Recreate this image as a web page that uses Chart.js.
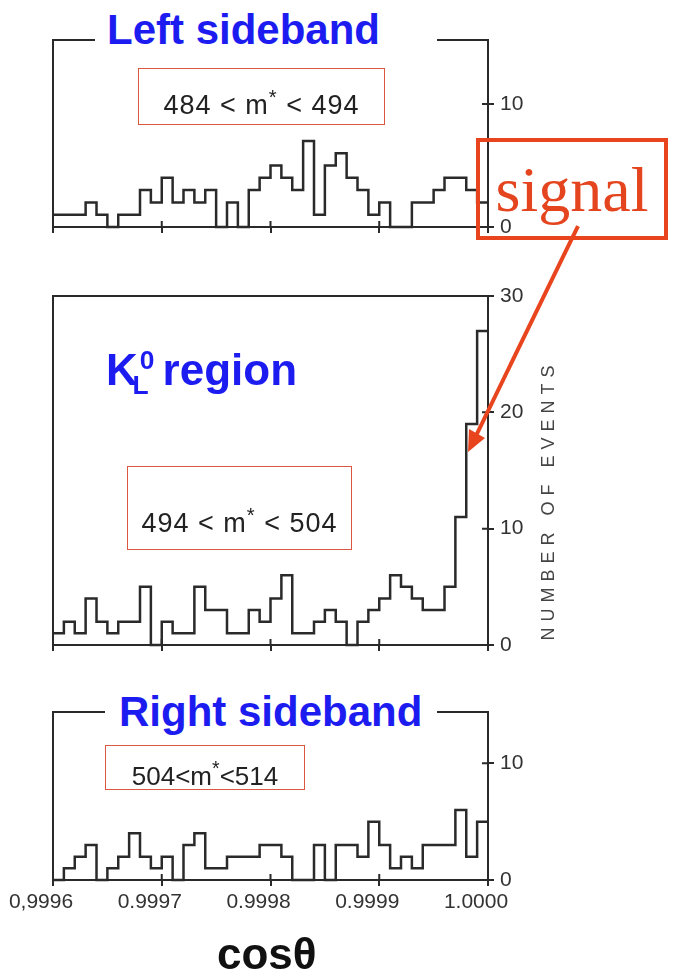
<!DOCTYPE html>
<html>
<head>
<meta charset="utf-8">
<script src="https://cdn.jsdelivr.net/npm/chart.js@4.4.1/dist/chart.umd.min.js"></script>
<style>
  html, body { margin: 0; padding: 0; background: #fff; }
  #page { position: relative; width: 674px; height: 978px; overflow: hidden; background: #fff;
          font-family: "Liberation Sans", Arial, sans-serif; }
  canvas { position: absolute; left: 0; }
  .title { position: absolute; background: #fff; color: #1c1cf0; font-weight: bold; font-size: 42px;
           line-height: 48px; white-space: nowrap; box-sizing: border-box; }
  .range { position: absolute; border: 1.5px solid #d9583f; color: #222; white-space: nowrap;
           box-sizing: border-box; text-align: center; font-size: 27px; letter-spacing: 1px; }
  .range sup { font-size: 75%; }
  #signal { position: absolute; left: 476px; top: 138px; width: 192px; height: 102px; box-sizing: border-box;
            border: 4px solid #e8441e; color: #e4451f; font-family: "Liberation Serif", "Times New Roman", serif;
            font-size: 64px; line-height: 96px; text-align: center; }
  #ylabel { position: absolute; left: 398px; top: 488px; width: 300px; height: 24px; line-height: 24px;
            text-align: center; font-size: 18px; letter-spacing: 6px; color: #444; transform: rotate(-90deg); }
  #xlabel { position: absolute; left: 217px; top: 929px; font-size: 44px; line-height: 50px; font-weight: bold; color: #111; }
  svg { position: absolute; left: 0; top: 0; }
</style>
</head>
<body>
<div id="page">
  <canvas id="topChart" width="674" height="262" style="top:0px"></canvas>
  <canvas id="midChart" width="674" height="420" style="top:262px"></canvas>
  <canvas id="botChart" width="674" height="240" style="top:682px"></canvas>

  <div class="title" style="left:95px; top:6px; width:342px; padding-left:12px;">Left sideband</div>
  <div class="title" style="left:106px; top:336px; background:none; font-size:44px;">K<sup style="font-size:60%; margin-left:2px">0</sup><sub style="font-size:60%; margin-left:-22px">L</sub><span style="margin-left:14px">region</span></div>
  <div class="title" style="left:105px; top:688px; width:332px; padding-left:14px;">Right sideband</div>

  <div class="range" style="left:138px; top:68px; width:247px; height:57px; line-height:56px;">484 &lt; m<sup>*</sup> &lt; 494</div>
  <div class="range" style="left:127px; top:466px; width:225px; height:84px; padding-top:20px; line-height:56px;">494 &lt; m<sup>*</sup> &lt; 504</div>
  <div class="range" style="left:105px; top:745px; width:200px; height:45px; line-height:44px; font-size:26px; letter-spacing:0;">504&lt;m<sup>*</sup>&lt;514</div>

  <div id="signal">signal</div>
  <svg width="674" height="978">
    <line x1="578" y1="226" x2="476.8" y2="434" stroke="#e8441e" stroke-width="4"/>
    <polygon points="468,452 485,438 469,429" fill="#e8441e"/>
  </svg>

  <div id="ylabel">NUMBER OF EVENTS</div>
  <div id="xlabel">cosθ</div>
</div>

<script>
// x axis
const xTickValues = [0.9996, 0.9997, 0.9998, 0.9999, 1.0000];
const xTickLabels = ['0,9996', '0.9997', '0.9998', '0.9999', '1.0000'];
const binStart = 0.9996;
const binWidth = 0.00001;

// events per bin (40 bins)
const leftSideband  = [1, 1, 1, 2, 1, 0, 1, 1, 3, 2, 4, 2, 3, 2, 3, 0, 2, 0, 3, 4,
                       5, 4, 3, 7, 1, 5, 6, 4, 3, 1, 2, 0, 0, 2, 2, 3, 4, 4, 3, 2];
const kRegion       = [1, 2, 1, 4, 2, 1, 2, 2, 5, 0, 2, 1, 1, 5, 3, 3, 1, 1, 3, 2,
                       4, 6, 1, 1, 2, 3, 2, 0, 2, 3, 4, 6, 5, 4, 3, 3, 5, 11, 19, 27];
const rightSideband = [0, 1, 2, 3, 0, 1, 2, 4, 2, 1, 2, 0, 3, 4, 1, 1, 2, 2, 2, 3,
                       3, 2, 0, 0, 3, 0, 3, 3, 2, 5, 3, 1, 2, 1, 3, 3, 3, 6, 2, 5];

const ink = '#2a2a2a';
const tickFont = { family: '"Liberation Sans", Arial, sans-serif', size: 21 };

function toSteps(counts) {
  const pts = counts.map((c, i) => ({ x: binStart + i * binWidth, y: c }));
  pts.push({ x: binStart + counts.length * binWidth, y: counts[counts.length - 1] });
  return pts;
}

// short marks inside the frame, so the ticks cross the axis line
const innerTicks = {
  id: 'innerTicks',
  afterDraw(chart) {
    const { ctx, chartArea, scales } = chart;
    ctx.save();
    ctx.strokeStyle = ink;
    ctx.lineWidth = 2;
    ctx.beginPath();
    scales.x.ticks.forEach(t => {
      if (t.value > 0.99961 && t.value < 0.99999) {
        const px = scales.x.getPixelForValue(t.value);
        ctx.moveTo(px, chartArea.bottom);
        ctx.lineTo(px, chartArea.bottom - 6);
      }
    });
    scales.y.ticks.forEach(t => {
      if (t.value > 0 && t.value < scales.y.max - 1) {
        const py = scales.y.getPixelForValue(t.value);
        ctx.moveTo(chartArea.right, py);
        ctx.lineTo(chartArea.right - 6, py);
      }
    });
    ctx.stroke();
    ctx.restore();
  }
};

function makePanel(id, counts, opt) {
  return new Chart(document.getElementById(id), {
    type: 'line',
    data: {
      datasets: [{
        data: toSteps(counts),
        stepped: true,
        borderColor: ink,
        borderWidth: 2.5,
        pointRadius: 0,
        fill: false,
        clip: 4,
        xAxisID: 'x',
        yAxisID: 'y'
      }]
    },
    options: {
      responsive: false,
      animation: false,
      layout: { padding: opt.padding },
      plugins: { legend: { display: false }, tooltip: { enabled: false } },
      scales: {
        x: {
          type: 'linear', position: 'bottom', min: 0.9996, max: 1.0,
          afterBuildTicks: s => { s.ticks = xTickValues.map(v => ({ value: v })); },
          afterFit: s => { s.height = opt.xHeight; },
          grid: { display: true, drawOnChartArea: false, drawTicks: true, tickLength: 6, color: ink, lineWidth: 2 },
          border: { display: true, color: ink, width: 2 },
          ticks: {
            display: opt.xLabels, autoSkip: false, maxRotation: 0, padding: 4, labelOffset: -12,
            color: '#333', font: tickFont,
            callback: (v, i) => xTickLabels[i]
          }
        },
        xTop: {
          type: 'linear', position: 'top', min: 0.9996, max: 1.0,
          afterFit: s => { s.height = 0; },
          grid: { display: false }, ticks: { display: false },
          border: { display: true, color: ink, width: 2 }
        },
        yLeft: {
          type: 'linear', position: 'left', min: 0, max: opt.yMax,
          afterFit: s => { s.width = 0; },
          grid: { display: false }, ticks: { display: false },
          border: { display: true, color: ink, width: 2 }
        },
        y: {
          type: 'linear', position: 'right', min: 0, max: opt.yMax,
          afterBuildTicks: s => { s.ticks = opt.yTicks.map(v => ({ value: v })); },
          afterFit: s => { s.width = 40; },
          grid: { display: true, drawOnChartArea: false, drawTicks: true, tickLength: 6, color: ink, lineWidth: 2 },
          border: { display: true, color: ink, width: 2 },
          ticks: { padding: 6, color: '#333', font: tickFont }
        }
      }
    },
    plugins: [innerTicks]
  });
}

makePanel('topChart', leftSideband, {
  yMax: 15.2, yTicks: [0, 10], xLabels: false, xHeight: 14,
  padding: { left: 53, right: 146, top: 40, bottom: 21 }
});
makePanel('midChart', kRegion, {
  yMax: 30, yTicks: [0, 10, 20, 30], xLabels: false, xHeight: 14,
  padding: { left: 53, right: 146, top: 34, bottom: 23 }
});
makePanel('botChart', rightSideband, {
  yMax: 14.4, yTicks: [0, 10], xLabels: true, xHeight: 36,
  padding: { left: 53, right: 146, top: 30, bottom: 6 }
});
</script>
</body>
</html>
